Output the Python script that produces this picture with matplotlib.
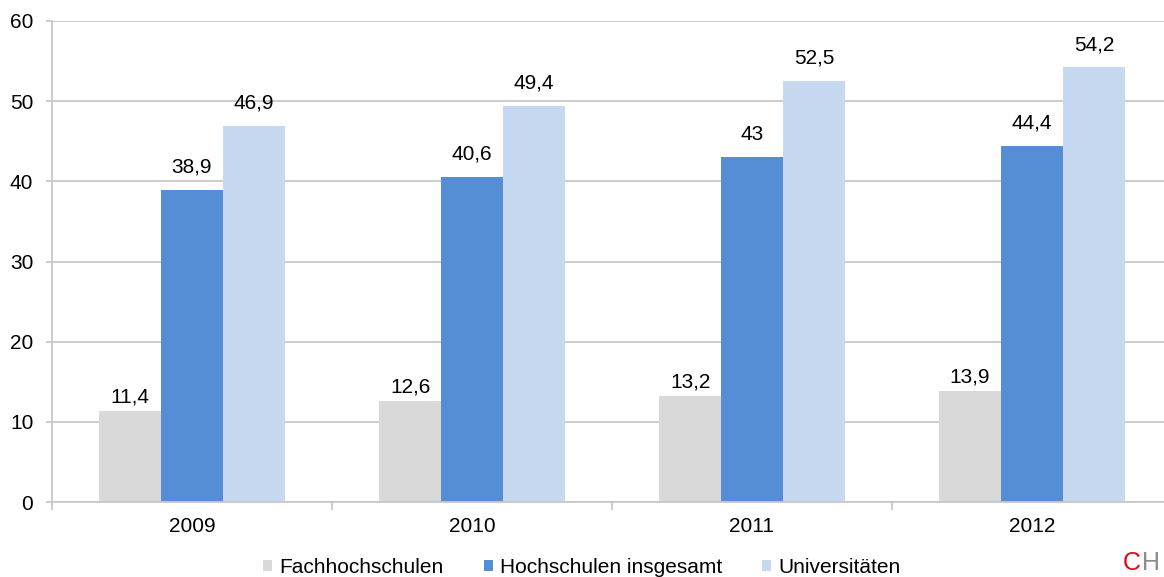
import matplotlib
matplotlib.use("Agg")
import matplotlib.pyplot as plt
import numpy as np

years = ["2009", "2010", "2011", "2012"]
series = ["Fachhochschulen", "Hochschulen insgesamt", "Universitäten"]
fachhochschulen = [11.4, 12.6, 13.2, 13.9]
insgesamt = [38.9, 40.6, 43.0, 44.4]
universitaeten = [46.9, 49.4, 52.5, 54.2]
yticks = [0, 10, 20, 30, 40, 50, 60]

COLORS = ["#d9d9d9", "#558ed5", "#c6d9f1"]
GRID = "#c8c8c8"
FS = 15

plt.rcParams.update({"font.family": ["Liberation Sans", "DejaVu Sans"], "font.size": FS})

W, H = 1164, 577
fig = plt.figure(figsize=(W / 100, H / 100), dpi=100)
# axes deliberately run past the right edge (the source is cropped)
ax = fig.add_axes([52 / W, 1 - 502 / H, 1120 / W, 481 / H])

x = np.arange(len(years))
w = 0.221
label_gap = [6, 12.5, 12.5]  # points between bar top and label baseline
for i, (vals, name) in enumerate(zip([fachhochschulen, insgesamt, universitaeten], series)):
    pos = x + (i - 1) * w
    ax.bar(pos, vals, w * 0.99, color=COLORS[i], label=name, zorder=2)
    for px, v in zip(pos, vals):
        txt = f"{v:.1f}".replace(".", ",") if v != int(v) else f"{int(v)}"
        ax.annotate(txt, (px, v), xytext=(0, label_gap[i]), textcoords="offset points",
                    ha="center", va="baseline", fontsize=FS, color="#000000")

ax.set_xlim(-0.5, len(years) - 0.5)
ax.set_ylim(0, 60)
ax.set_yticks(yticks)
ax.yaxis.grid(True, color=GRID, lw=1.3, zorder=0)
ax.set_axisbelow(True)
for s in ["top", "right"]:
    ax.spines[s].set_visible(False)
for s in ["left", "bottom"]:
    ax.spines[s].set_color(GRID)
    ax.spines[s].set_linewidth(1.3)
ax.tick_params(axis="y", length=4.5, color=GRID, width=1.3, pad=9, labelsize=FS)
ax.set_xticks(x, years)
ax.set_xticks(np.arange(len(years) + 1) - 0.5, minor=True)
ax.tick_params(axis="x", which="major", length=0, pad=11, labelsize=FS)
ax.tick_params(axis="x", which="minor", length=6, color=GRID, width=1.3)

fig.legend(loc="lower center", bbox_to_anchor=(0.5, -0.032), ncol=3, frameon=False,
           fontsize=FS, handlelength=0.45, handleheight=0.45, handletextpad=0.35,
           columnspacing=1.9)

# cropped logo in the bottom-right corner
fig.text(1123 / W, 1 - 570 / H, "C", color="#e30613", fontsize=18, ha="left", va="baseline")
fig.text(1142 / W, 1 - 570 / H, "H", color="#8c8c8c", fontsize=18, ha="left", va="baseline")

fig.savefig("out.png", dpi=100)
